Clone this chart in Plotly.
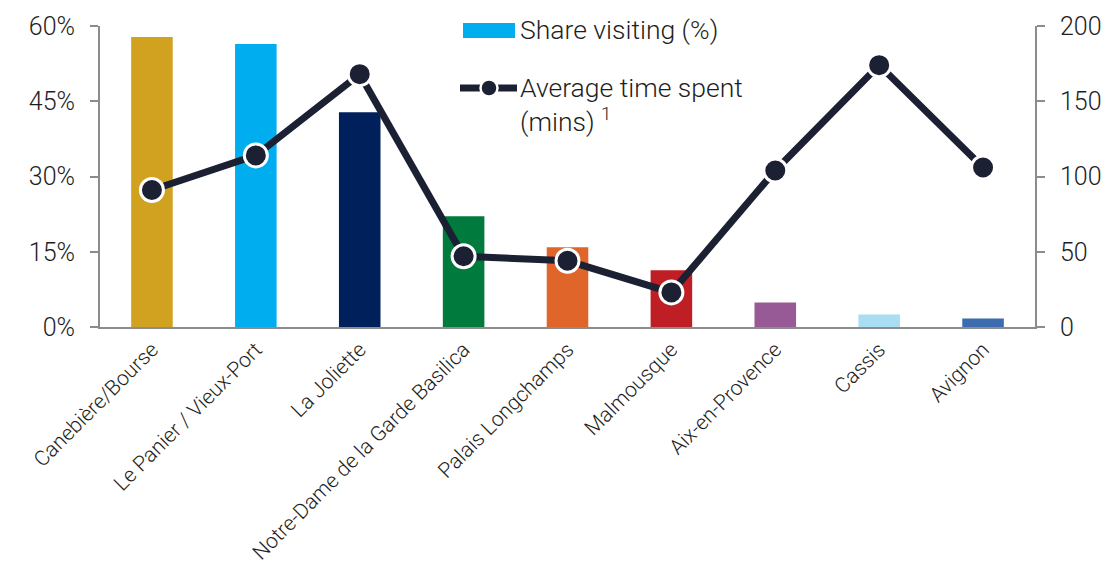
import plotly.graph_objects as go

# Visitor destinations around Marseille
categories = [
    "Canebière/Bourse",
    "Le Panier / Vieux-Port",
    "La Joliette",
    "Notre-Dame de la Garde Basilica",
    "Palais Longchamps",
    "Malmousque",
    "Aix-en-Provence",
    "Cassis",
    "Avignon",
]
share_visiting = [0.578, 0.564, 0.428, 0.221, 0.159, 0.113, 0.049, 0.025, 0.017]
avg_time_mins = [91, 114, 168, 47, 44, 23, 104, 174, 106]
bar_colors = ["#D1A21F", "#00AEEF", "#00205B", "#007A3D", "#E0652B",
              "#BE1E24", "#985A97", "#A8DDF2", "#3B6CB0"]
pct_ticks = [0, 0.15, 0.30, 0.45, 0.60]
pct_labels = ["0%", "15%", "30%", "45%", "60%"]
min_ticks = [0, 50, 100, 150, 200]

legend_bar_label = "Share visiting (%)"
legend_line_label = "Average time spent<br>(mins) <sup>1</sup>"

W, H = 1118, 565
L, R, T, B = 100, 83, 26, 238
LINE = "#1B2033"
AXIS = "#8C8C8C"
FONT = "Roboto"
TXT = "#1E1E1E"


def px(x):
    return (x - L) / (W - L - R)


def py(y):
    return (H - B - y) / (H - T - B)


fig = go.Figure()
fig.add_trace(go.Bar(
    x=categories, y=share_visiting, marker=dict(color=bar_colors, line=dict(width=0)),
    showlegend=False, yaxis="y",
))
fig.add_trace(go.Scatter(
    x=categories, y=avg_time_mins, yaxis="y2", mode="lines+markers",
    line=dict(color=LINE, width=7),
    marker=dict(size=23, color=LINE, line=dict(color="white", width=3)),
    showlegend=False, cliponaxis=False,
))

# Hand-drawn legend
shapes = [
    dict(type="rect", xref="paper", yref="paper", x0=px(463), x1=px(515),
         y0=py(38), y1=py(23), fillcolor="#00AEEF", line=dict(width=0)),
    dict(type="line", xref="paper", yref="paper", x0=px(460), x1=px(517),
         y0=py(88), y1=py(88), line=dict(color=LINE, width=7)),
    dict(type="circle", xref="paper", yref="paper", x0=px(480.5), x1=px(497.5),
         y0=py(96.5), y1=py(79.5), fillcolor=LINE, line=dict(color="white", width=2.5)),
]
annotations = [
    dict(xref="paper", yref="paper", x=px(518), y=py(30), xanchor="left", yanchor="middle",
         text=legend_bar_label, showarrow=False, align="left",
         font=dict(family=FONT, size=26.5, color=TXT, weight=300)),
    dict(xref="paper", yref="paper", x=px(518), y=py(70), xanchor="left", yanchor="top",
         text=legend_line_label, showarrow=False, align="left",
         font=dict(family=FONT, size=26.5, color=TXT, weight=300)),
]

fig.update_layout(
    width=W, height=H,
    margin=dict(l=L, r=R, t=T, b=B, pad=0),
    paper_bgcolor="white", plot_bgcolor="white",
    bargap=0.6, barmode="overlay",
    font=dict(family=FONT, color=TXT, weight=300),
    shapes=shapes, annotations=annotations,
    xaxis=dict(
        range=[-0.5, len(categories) - 0.5], automargin=False,
        showline=True, linecolor=AXIS, linewidth=2, showgrid=False, ticks="",
        tickangle=-45, tickfont=dict(family=FONT, size=21, color=TXT, weight=300),
        zeroline=False,
    ),
    yaxis=dict(
        range=[0, 0.6], tickvals=pct_ticks, ticktext=pct_labels, automargin=False,
        showline=True, linecolor=AXIS, linewidth=2, showgrid=False, zeroline=False,
        ticks="outside", ticklen=8, tickwidth=2, tickcolor=AXIS,
        tickfont=dict(family=FONT, size=25, color=TXT, weight=300),
        ticklabelstandoff=10,
    ),
    yaxis2=dict(
        range=[0, 200], tickvals=min_ticks, overlaying="y", side="right", automargin=False,
        showline=True, linecolor=AXIS, linewidth=2, showgrid=False, zeroline=False,
        ticks="outside", ticklen=8, tickwidth=2, tickcolor=AXIS,
        tickfont=dict(family=FONT, size=25, color=TXT, weight=300),
        ticklabelstandoff=10,
    ),
)

fig.write_html("out.html")
